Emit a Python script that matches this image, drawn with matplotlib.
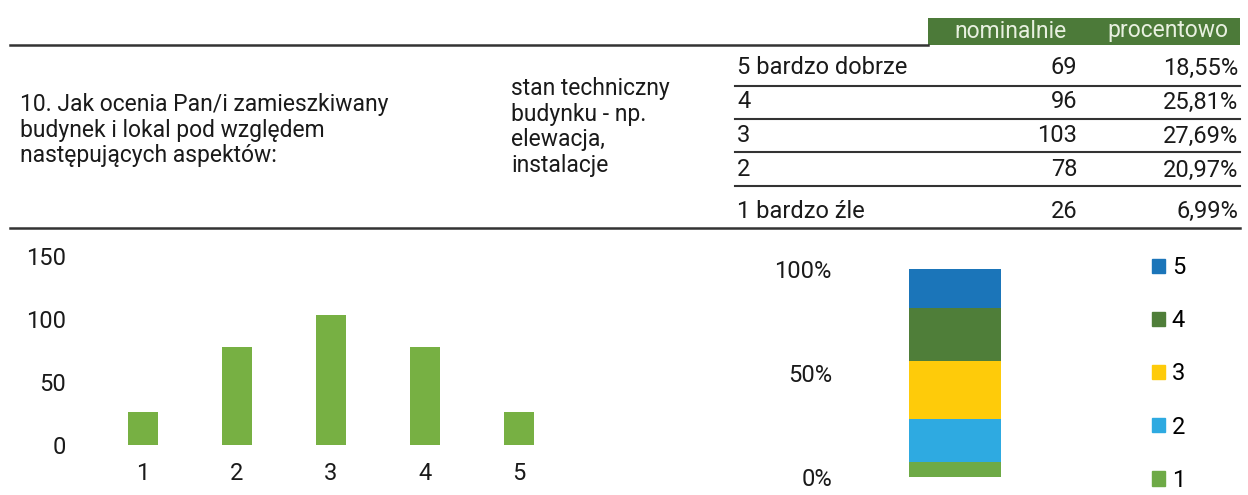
import matplotlib.pyplot as plt
from matplotlib.patches import Patch, Rectangle

plt.rcParams['font.family'] = ['Roboto', 'DejaVu Sans']

# dane
question = "10. Jak ocenia Pan/i zamieszkiwany\nbudynek i lokal pod względem\nnastępujących aspektów:"
aspect = "stan techniczny\nbudynku - np.\nelewacja,\ninstalacje"
row_labels = ["5 bardzo dobrze", "4", "3", "2", "1 bardzo źle"]
nominal = [69, 96, 103, 78, 26]
percent = [18.55, 25.81, 27.69, 20.97, 6.99]
col_headers = ["nominalnie", "procentowo"]

bar_cats = [1, 2, 3, 4, 5]
bar_vals = [26, 78, 103, 78, 26]   # tak jak na wykresie
stack_cats = ["1", "2", "3", "4", "5"]
stack_pct = [6.99, 20.97, 27.69, 25.81, 18.55]

green = "#77b043"
stack_colors = ["#6eaa46", "#2eaae1", "#fecb0a", "#4f7e39", "#1b75b9"]
header_green = "#4c7a39"
line_col = "#333333"
txt = "#1a1a1a"

fig = plt.figure(figsize=(12.48, 4.95), dpi=100)

# warstwa tabeli w pikselach
bg = fig.add_axes([0, 0, 1, 1])
bg.set_xlim(0, 1248)
bg.set_ylim(495, 0)
bg.axis('off')

bg.add_patch(Rectangle((928, 18), 312, 27, color=header_green, lw=0))
bg.text(1010, 31, col_headers[0], color="#e8f0e0", fontsize=16.5, ha='center', va='center')
bg.text(1168, 31, col_headers[1], color="#e8f0e0", fontsize=16.5, ha='center', va='center')

bg.plot([10, 928], [45, 45], color=line_col, lw=1.8)
bg.plot([10, 1240], [228, 228], color=line_col, lw=1.8)

bg.text(20, 130, question, fontsize=16.5, color=txt, ha='left', va='center', linespacing=1.14)
bg.text(511, 127, aspect, fontsize=16.5, color=txt, ha='left', va='center', linespacing=1.14)

row_y = [68, 102, 136, 170, 211]
sep_y = [86, 119, 152, 186]
for i in range(len(row_labels)):
    bg.text(737, row_y[i], row_labels[i], fontsize=17, color=txt, ha='left', va='center')
    bg.text(1077, row_y[i], str(nominal[i]), fontsize=17, color=txt, ha='right', va='center')
    bg.text(1238, row_y[i], f"{percent[i]:.2f}%".replace('.', ','), fontsize=17,
            color=txt, ha='right', va='center')
for y in sep_y:
    bg.plot([735, 1240], [y, y], color=line_col, lw=1.5)

# wykres słupkowy
ax1 = fig.add_axes([77 / 1248, 50 / 495, 508 / 1248, 189 / 495])
ax1.bar(bar_cats, bar_vals, width=0.32, color=green)
ax1.set_xlim(0.3, 5.7)
ax1.set_ylim(0, 150)
ax1.set_yticks([0, 50, 100, 150])
ax1.set_xticks(bar_cats)
ax1.tick_params(length=0, labelsize=17, labelcolor=txt, pad=8)
ax1.tick_params(axis='x', pad=12)
for s in ax1.spines.values():
    s.set_visible(False)
ax1.patch.set_alpha(0)

# wykres skumulowany 100%
ax2 = fig.add_axes([843 / 1248, 18 / 495, 397 / 1248, 208 / 495])
bottom = 0
handles = []
for c, p, col in zip(stack_cats, stack_pct, stack_colors):
    ax2.bar([0], [p], bottom=bottom, width=1, color=col)
    bottom += p
    handles.append(Patch(color=col, label=c))
ax2.set_xlim(-1.23, 3.13)
ax2.set_ylim(0, 100)
ax2.set_yticks([0, 50, 100])
ax2.set_yticklabels(["0%", "50%", "100%"])
ax2.set_xticks([])
ax2.tick_params(length=0, labelsize=17, labelcolor=txt, pad=8)
for s in ax2.spines.values():
    s.set_visible(False)
ax2.patch.set_alpha(0)
ax2.legend(handles[::-1], [h.get_label() for h in handles[::-1]],
           loc='center left', bbox_to_anchor=(1140 / 1248, (495 - 374) / 495),
           bbox_transform=fig.transFigure, frameon=False, fontsize=17,
           handlelength=0.55, handleheight=0.55, handletextpad=0.3,
           labelspacing=1.28, borderpad=0)

fig.savefig("out.png", dpi=100, facecolor="white")
